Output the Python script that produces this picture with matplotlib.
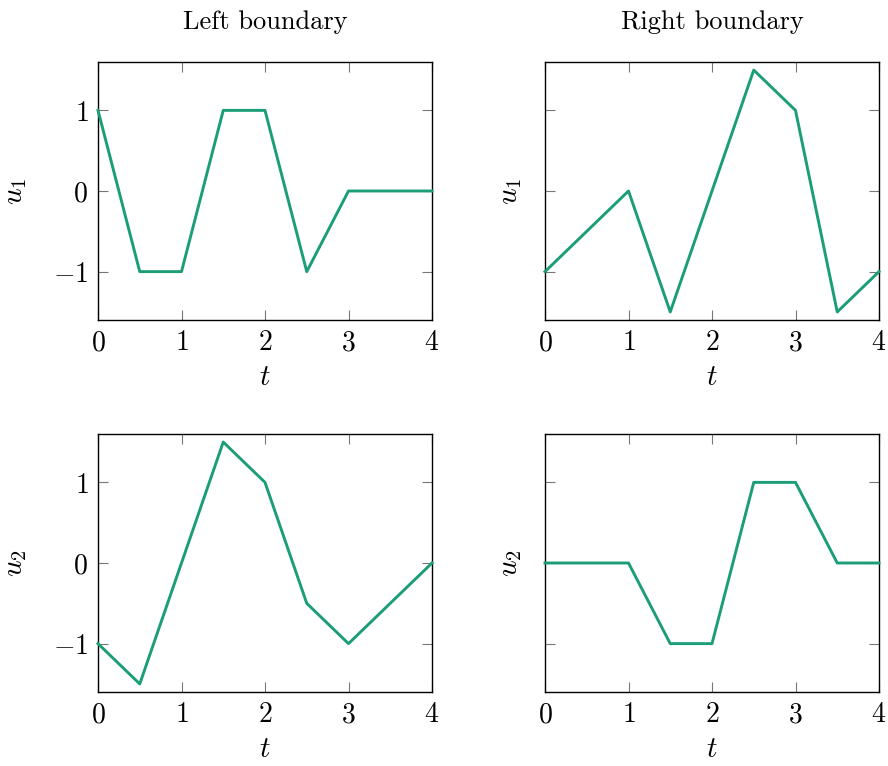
import matplotlib
matplotlib.use("Agg")
import matplotlib.pyplot as plt

plt.rcParams['font.family'] = 'cmr10'
plt.rcParams['mathtext.fontset'] = 'cm'
plt.rcParams['axes.formatter.use_mathtext'] = True

# left boundary
t_u1_left = [0, 0.5, 1, 1.5, 2, 2.5, 3, 4]
u1_left = [1, -1, -1, 1, 1, -1, 0, 0]
t_u2_left = [0, 0.5, 1.5, 2, 2.5, 3, 4]
u2_left = [-1, -1.5, 1.5, 1, -0.5, -1, 0]

# right boundary
t_u1_right = [0, 1, 1.5, 2.5, 3, 3.5, 4]
u1_right = [-1, 0, -1.5, 1.5, 1, -1.5, -1]
t_u2_right = [0, 1, 1.5, 2, 2.5, 3, 3.5, 4]
u2_right = [0, 0, -1, -1, 1, 1, 0, 0]

xticks = [0, 1, 2, 3, 4]
yticks = [-1, 0, 1]
color = '#1b9e77'

fig = plt.figure(figsize=(8.88, 7.66), dpi=100)
W, H = 888, 766
boxes = [(98, 62), (545, 62), (98, 434), (545, 434)]
aw, ah = 334, 258
series = [(t_u1_left, u1_left, r'$u_1$'), (t_u1_right, u1_right, r'$u_1$'),
          (t_u2_left, u2_left, r'$u_2$'), (t_u2_right, u2_right, r'$u_2$')]

for i, ((x0, y0), (t, u, lab)) in enumerate(zip(boxes, series)):
    ax = fig.add_axes([x0 / W, 1 - (y0 + ah) / H, aw / W, ah / H])
    ax.plot(t, u, color=color, lw=2.1, clip_on=False, zorder=3)
    ax.set_xlim(0, 4)
    ax.set_ylim(-1.6, 1.6)
    ax.set_xticks(xticks)
    ax.set_yticks(yticks)
    ax.tick_params(direction='in', length=7, width=0.8, color='#777777',
                   top=True, right=True, pad=7, labelsize=20)
    for s in ax.spines.values():
        s.set_linewidth(1.0)
    ax.set_xlabel(r'$t$', fontsize=21, labelpad=6)
    ax.set_ylabel(lab, fontsize=21, labelpad=17 if i % 2 == 0 else 8)
    if i % 2 == 1:
        ax.set_yticklabels([])
    if i == 0:
        ax.set_title('Left boundary', fontsize=19, pad=24)
    if i == 1:
        ax.set_title('Right boundary', fontsize=19, pad=24)

fig.savefig('out.png', dpi=100)
